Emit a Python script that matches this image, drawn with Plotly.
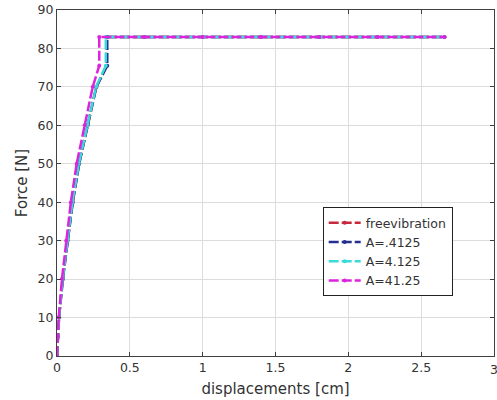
import plotly.graph_objects as go

# Series data
force_steep = [0, 5, 10, 20, 30, 40, 50, 60, 70, 75.5, 83, 83, 83, 83, 83, 83, 83]
disp_a41 = [0, 0.005, 0.012, 0.034, 0.063, 0.095, 0.135, 0.19, 0.245, 0.29, 0.29, 0.6, 1.0, 1.4, 1.8, 2.2, 2.66]

force_soft = [0, 5, 10, 20, 30, 40, 50, 60, 70, 75.5, 83, 83, 83, 83, 83, 83, 83]
disp_free = [0, 0.006, 0.014, 0.04, 0.072, 0.108, 0.152, 0.21, 0.27, 0.34, 0.34, 0.6, 1.0, 1.4, 1.8, 2.2, 2.66]
disp_a04 = [0, 0.006, 0.014, 0.04, 0.072, 0.108, 0.152, 0.21, 0.27, 0.345, 0.345, 0.6, 1.0, 1.4, 1.8, 2.2, 2.66]
disp_a4 = [0, 0.006, 0.014, 0.039, 0.071, 0.106, 0.15, 0.208, 0.268, 0.335, 0.335, 0.6, 1.0, 1.4, 1.8, 2.2, 2.66]

names = ["freevibration", "A=.4125", "A=4.125", "A=41.25"]
colors = ["#c8283c", "#24308f", "#3adada", "#dc24dc"]
xs = [disp_free, disp_a04, disp_a4, disp_a41]
ys = [force_soft, force_soft, force_soft, force_steep]

x_ticks = [0, 0.5, 1, 1.5, 2, 2.5, 3]
y_ticks = [0, 10, 20, 30, 40, 50, 60, 70, 80, 90]

fig = go.Figure()
for name, color, x, y in zip(names, colors, xs, ys):
    fig.add_trace(go.Scatter(
        x=x, y=y, name=name, mode="lines+markers",
        line=dict(color=color, width=2.5, dash="10px,3px"),
        marker=dict(color=color, size=4),
    ))

axis_common = dict(
    showgrid=True, gridcolor="#dcdcdc", gridwidth=1,
    showline=True, linecolor="#404040", linewidth=1, mirror="allticks",
    ticks="inside", ticklen=4, tickcolor="#404040",
    tickfont=dict(family="DejaVu Sans", size=12.5, color="#333333"),
    zeroline=False, automargin=False,
)

fig.update_layout(
    width=497, height=400,
    margin=dict(l=57, r=3, t=10, b=44),
    paper_bgcolor="white", plot_bgcolor="white",
    font=dict(family="DejaVu Sans", size=12, color="#333333"),
    xaxis=dict(range=[0, 3], tickvals=x_ticks, ticktext=[str(v) for v in x_ticks],
               title=dict(text="displacements [cm]", standoff=9,
                          font=dict(size=15, color="#333333")),
               **axis_common),
    yaxis=dict(range=[0, 90], tickvals=y_ticks,
               title=dict(text="Force [N]", standoff=6,
                          font=dict(size=15, color="#333333")),
               **axis_common),
    legend=dict(x=0.608, y=0.43, xanchor="left", yanchor="top",
                bgcolor="white", bordercolor="#222222", borderwidth=1,
                font=dict(size=12.5, color="#333333"),
                tracegroupgap=0, itemwidth=32),
    showlegend=True,
)

# last x tick label sits at the page edge (partly clipped, as in the reference)
fig.add_annotation(x=x_ticks[-1], y=0, xref="x", yref="paper", text=str(x_ticks[-1]),
                   showarrow=False, xanchor="center", yanchor="top", yshift=-4,
                   font=dict(family="DejaVu Sans", size=12.5, color="#333333"))

# remove the browser's default 8px body margin so the figure sits at the page origin
fig.write_html("out.html", config={"displayModeBar": False},
               post_script="document.body.style.margin='0';")
